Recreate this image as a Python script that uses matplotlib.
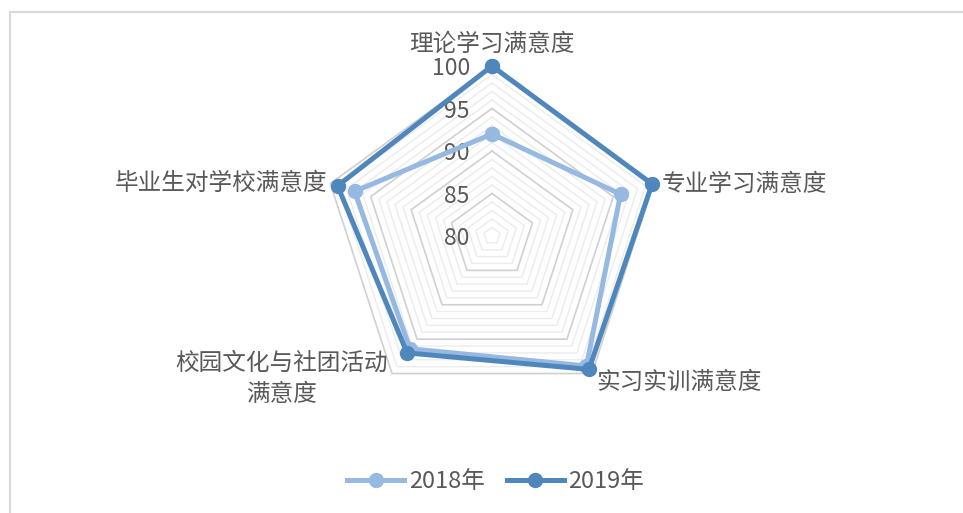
import numpy as np
import matplotlib
matplotlib.use("Agg")
import matplotlib.pyplot as plt
from matplotlib.lines import Line2D

plt.rcParams['font.family'] = ['Noto Sans CJK SC', 'DejaVu Sans']

CATEGORIES = ["理论学习满意度", "专业学习满意度", "实习实训满意度",
              "校园文化与社团活动\n满意度", "毕业生对学校满意度"]
SERIES_NAMES = ["2018年", "2019年"]
VALUES_2018 = [92.0, 95.9, 98.9, 96.4, 97.0]
VALUES_2019 = [100.0, 99.8, 99.4, 97.0, 99.1]
R_MIN, R_MAX = 80, 100
R_TICKS = [80, 85, 90, 95, 100]

COLORS = ["#95b9e0", "#4f87bd"]
TEXT_COLOR = "#595959"

W, H = 963, 513
fig = plt.figure(figsize=(W / 100, H / 100), dpi=100)

# outer chart-area border (only top and left are visible in the crop)
fig.add_artist(Line2D([10 / W, 10 / W], [0, 1 - 12 / H], transform=fig.transFigure,
                      color="#d9d9d9", lw=1.5))
fig.add_artist(Line2D([10 / W, 1], [1 - 12 / H, 1 - 12 / H], transform=fig.transFigure,
                      color="#d9d9d9", lw=1.5))

cx, cy, rad = 492, 236, 170
ax = fig.add_axes([(cx - rad) / W, (H - cy - rad) / H, 2 * rad / W, 2 * rad / H],
                  projection="polar")
ax.set_theta_offset(np.pi / 2)
ax.set_theta_direction(-1)
ax.set_ylim(R_MIN, R_MAX)
ax.grid(False)
ax.spines["polar"].set_visible(False)
ax.set_xticks([])
ax.set_yticks([])
ax.patch.set_alpha(0)

n = len(CATEGORIES)
angles = np.arange(n) * 2 * np.pi / n
closed = np.append(angles, angles[0])

# pentagon grid: minor every 1, major every 5
for r in range(R_MIN + 1, R_MAX + 1):
    major = r % 5 == 0
    ax.plot(closed, [r] * (n + 1), color="#d0d0d0" if major else "#ececec",
            lw=1.2 if major else 1.0, zorder=1, clip_on=False)

for r in R_TICKS:
    ax.annotate(str(r), xy=(0, r), xytext=(-16, -2), textcoords="offset points",
                ha="right", va="center", fontsize=16.5, color=TEXT_COLOR,
                annotation_clip=False, zorder=2)

for name, vals, col in zip(SERIES_NAMES, [VALUES_2018, VALUES_2019], COLORS):
    ax.plot(closed, vals + vals[:1], color=col, lw=3.6, marker="o", ms=10,
            label=name, zorder=3, solid_joinstyle="round", clip_on=False)

# category labels
label_cfg = [
    dict(off=(0, 7), ha="center", va="bottom"),
    dict(off=(6, -1), ha="left", va="center"),
    dict(off=(3, -6), ha="left", va="center"),
    dict(off=(-3, -4), ha="right", va="center"),
    dict(off=(-2, 0), ha="right", va="center"),
]
for ang, cat, cfg in zip(angles, CATEGORIES, label_cfg):
    ax.annotate(cat, xy=(ang, R_MAX), xytext=cfg["off"], textcoords="offset points",
                ha=cfg["ha"], va=cfg["va"], multialignment="center", linespacing=1.45,
                fontsize=17, color=TEXT_COLOR, annotation_clip=False)

leg = fig.legend(loc="center", bbox_to_anchor=(0.515, 1 - 482 / H), ncol=2,
                 frameon=False, fontsize=17, handlelength=2.4, columnspacing=0.95,
                 handletextpad=0.2)
for t in leg.get_texts():
    t.set_color(TEXT_COLOR)

fig.savefig("out.png", dpi=100)
